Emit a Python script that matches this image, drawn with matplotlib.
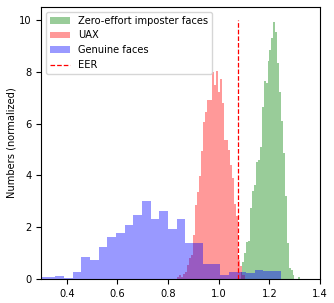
import numpy as np
import matplotlib.pyplot as plt


# --------------------------------------------------
# Histogram data (bin edges + normalized heights)
# --------------------------------------------------

# Genuine faces: coarse bins
genuine_edges = np.linspace(0.286, 1.245, 29)
genuine_heights = [
    0.08, 0.08, 0.12, 0.05, 0.30, 0.85, 0.74, 1.24, 1.62, 1.78,
    2.08, 2.46, 3.01, 2.32, 2.65, 1.94, 2.32, 1.39, 1.39, 0.58,
    0.58, 0.15, 0.29, 0.29, 0.23, 0.36, 0.32, 0.32,
]

# UAX
uax_edges = np.linspace(0.834, 1.102, 34)
uax_heights = [
    0.08, 0.15, 0.10, 0.22, 0.29, 0.55, 0.81, 0.95, 1.70, 2.87,
    3.38, 3.98, 4.96, 6.04, 6.44, 6.91, 6.91, 8.00, 7.50, 8.03,
    7.20, 7.71, 6.81, 5.37, 5.37, 5.00, 4.40, 3.90, 2.90, 2.45,
    0.75, 0.50, 0.15,
]

# Zero-effort imposter faces
zero_edges = np.linspace(1.0864, 1.322, 32)
zero_heights = [
    0.30, 0.68, 1.00, 1.45, 1.47, 2.74, 3.40, 3.64, 4.51, 4.60,
    5.11, 6.64, 7.62, 7.58, 8.42, 8.84, 9.29, 9.92, 9.52, 8.33,
    7.22, 6.10, 4.86, 3.21, 1.39, 0.42, 0.36, 0.17, 0.00, 0.00,
    0.08,
]

eer_threshold = 1.078
eer_line_top = 10


# --------------------------------------------------
# Plot
# --------------------------------------------------

plt.rcParams["font.size"] = 7.1

fig = plt.figure(figsize=(3.34, 3.03), dpi=100)
ax = fig.add_axes([0.124, 0.078, 0.834, 0.9])

ax.hist(zero_edges[:-1], bins=zero_edges, weights=zero_heights,
        color="green", alpha=0.4, label="Zero-effort imposter faces")
ax.hist(uax_edges[:-1], bins=uax_edges, weights=uax_heights,
        color="red", alpha=0.4, label="UAX")
ax.hist(genuine_edges[:-1], bins=genuine_edges, weights=genuine_heights,
        color="blue", alpha=0.4, label="Genuine faces")
ax.plot([eer_threshold, eer_threshold], [0, eer_line_top],
        color="red", linestyle="--", linewidth=0.9, label="EER")

ax.set_xlim(0.3, 1.4)
ax.set_ylim(0, 10.5)
ax.set_xticks([0.4, 0.6, 0.8, 1.0, 1.2, 1.4])
ax.set_yticks([0, 2, 4, 6, 8, 10])
ax.set_ylabel("Numbers (normalized)", labelpad=2)
ax.legend(loc="upper left")

plt.savefig("out.png", dpi=100)
plt.close(fig)
